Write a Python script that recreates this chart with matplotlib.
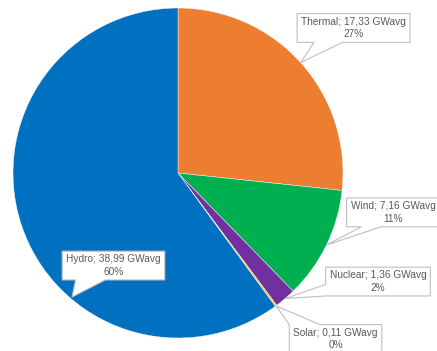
import numpy as np
import matplotlib
matplotlib.use("Agg")
import matplotlib.pyplot as plt
from matplotlib.patches import Polygon
from matplotlib.transforms import IdentityTransform

# generation by source, GWavg
sources = ["Thermal", "Wind", "Nuclear", "Solar", "Hydro"]
gwavg = [17.33, 7.16, 1.36, 0.11, 38.99]
colors = ["#ED7D31", "#00B050", "#7030A0", "#FFC000", "#0070C0"]

# callout layout: label centre (data units, pie radius 1), side the pointer leaves from,
# and where along that side its base sits (fractions)
box_xy = [(1.064, 0.879), (1.303, -0.239), (1.212, -0.658), (0.955, -1.006), (-0.391, -0.561)]
pointer_side = ["bottom", "bottom", "left", "top", "bottom"]
pointer_base = [(0.15, 0.40), (0.16, 0.37), (0.0, 0.40), (0.0, 0.33), (0.13, 0.42)]
hydro_tip = (-0.642, -0.752)  # label sits inside its slice, pointer goes to the rim

W, H = 437, 351
fig = plt.figure(figsize=(W / 100, H / 100), dpi=100)
ax = fig.add_axes([13 / W, 1 - 338 / H, 330 / W, 330 / H])

wedges, _ = ax.pie(gwavg, colors=colors, startangle=90, counterclock=False, radius=1,
                   wedgeprops=dict(edgecolor="white", linewidth=0.3))
ax.set_xlim(-1, 1)
ax.set_ylim(-1, 1)
ax.set_aspect("equal")
ax.axis("off")

renderer = fig.canvas.get_renderer()
total = sum(gwavg)
padx, pady = 4, 3

for i, (name, v) in enumerate(zip(sources, gwavg)):
    pct = round(100 * v / total)
    label = f"{name}; {v:.2f}".replace(".", ",") + f" GWavg\n{pct}%"
    t = ax.text(*box_xy[i], label, ha="center", va="center", fontsize=7.3,
                family="Liberation Sans", color="#595959", linespacing=1.35,
                zorder=6, clip_on=False)

    if name == "Hydro":
        tip = hydro_tip
    else:
        w = wedges[i]
        mid = np.deg2rad((w.theta1 + w.theta2) / 2)
        tip = (np.cos(mid), np.sin(mid))
    tx, ty = ax.transData.transform(tip)

    bb = t.get_window_extent(renderer)
    x0, x1 = bb.x0 - padx, bb.x1 + padx
    y0, y1 = bb.y0 - pady, bb.y1 + pady
    f1, f2 = pointer_base[i]
    side = pointer_side[i]
    if side == "bottom":
        a, b = x0 + f1 * (x1 - x0), x0 + f2 * (x1 - x0)
        verts = [(x0, y0), (a, y0), (tx, ty), (b, y0), (x1, y0), (x1, y1), (x0, y1)]
    elif side == "top":
        a, b = x0 + f1 * (x1 - x0), x0 + f2 * (x1 - x0)
        verts = [(x0, y0), (x1, y0), (x1, y1), (b, y1), (tx, ty), (a, y1), (x0, y1)]
    else:  # left
        a, b = y0 + f1 * (y1 - y0), y0 + f2 * (y1 - y0)
        verts = [(x0, y0), (x1, y0), (x1, y1), (x0, y1), (x0, b), (tx, ty), (x0, a)]
    ax.add_artist(Polygon(verts, closed=True, fc="white", ec="#BFBFBF", lw=0.8,
                          transform=IdentityTransform(), zorder=5, clip_on=False))

fig.savefig("out.png", dpi=100)
